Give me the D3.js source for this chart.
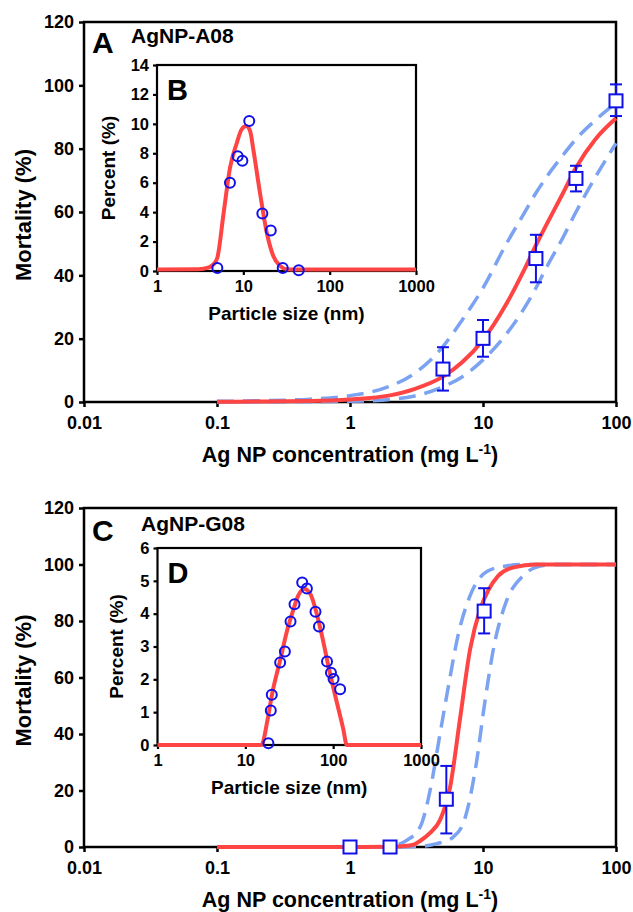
<!DOCTYPE html>
<html>
<head>
<meta charset="utf-8">
<script src="https://cdn.jsdelivr.net/npm/d3@7"></script>
<style>
  body { margin: 0; background: #fff; }
  text { font-family: "Liberation Sans", Arial, Helvetica, sans-serif; font-weight: bold; fill: #000; }
</style>
</head>
<body>
<div id="chart"></div>
<script>
// ---- data ----

// Panel A: AgNP-A08 mortality
var concA = [5, 10, 25, 50, 100];
var mortA = [10.4, 20.1, 45.3, 70.6, 95.1];
var mortA_low = [3.6, 14.3, 37.8, 66.5, 90.3];
var mortA_high = [17.3, 25.9, 52.8, 74.6, 100.3];

var fitA_x = [0.1, 0.2, 0.5, 1, 2, 3, 5, 7, 10, 15, 20, 25, 30, 40, 50, 70, 100];
var fitA = [0.1, 0.15, 0.3, 0.8, 2.1, 4.0, 8.0, 12.6, 19.6, 31, 41, 49.5, 56, 66, 74, 83, 89.6];
var fitA_upper = [0.2, 0.4, 0.9, 2.0, 5.0, 8.8, 17.5, 26, 36, 50, 59, 66, 71, 78, 83, 89, 94.5];
var fitA_lower = [0, 0.05, 0.1, 0.2, 0.8, 1.8, 4.8, 8, 13.3, 21.5, 29, 36, 42.5, 52, 60, 71, 81.7];

// Panel B: AgNP-A08 size distribution
var sizeB = [5.0, 7.0, 8.6, 9.75, 11.7, 16.6, 20.8, 28.6, 43.8];
var pctB = [0.2, 6.0, 7.8, 7.5, 10.2, 3.9, 2.75, 0.2, 0.05];
var fitB_x = [1, 3, 4, 4.5, 5, 5.9, 7, 8.4, 9.5, 10.8, 12, 13.1, 15.6, 18.7, 22.3, 26.6, 32, 40, 1000];
var fitB = [0.1, 0.12, 0.25, 0.45, 0.9, 3.9, 7.0, 8.7, 9.6, 9.85, 9.5, 8.2, 5.3, 2.6, 1.0, 0.35, 0.12, 0.1, 0.1];

// Panel C: AgNP-G08 mortality
var concC = [1, 2, 5.3, 10.2];
var mortC = [0, 0, 16.9, 83.5];
var mortC_low = [0, 0, 4.8, 75.6];
var mortC_high = [0, 0, 28.7, 91.6];

var fitC_x = [0.1, 1, 2, 2.5, 3, 3.4, 4, 4.75, 5.65, 6.7, 8, 9.5, 11, 13, 17, 25, 100];
var fitC = [0, 0, 0.1, 0.3, 0.8, 2.3, 5, 9.5, 21, 45, 70, 84, 91, 96, 99, 100, 100];
var fitC_upper_x = [0.1, 1, 1.8, 2.2, 2.7, 3.4, 4, 4.75, 5.5, 6.5, 8, 10.7, 15, 20, 100];
var fitC_upper = [0, 0, 0.1, 0.6, 2.5, 7.5, 20, 40, 57, 75, 89, 97.5, 99.5, 100, 100];
var fitC_lower_x = [0.1, 1, 2.5, 3.5, 4.5, 6, 7.3, 8.9, 10.3, 12.2, 15, 20, 25, 35, 100];
var fitC_lower = [0, 0, 0, 0.3, 1.2, 3.6, 10, 29.5, 51, 72, 87, 96, 99, 100, 100];

// Panel D: AgNP-G08 size distribution
var sizeD = [18.3, 19.5, 20.0, 24.9, 28.2, 32.7, 36.3, 44.4, 50.2, 62.9, 68.9, 85.1, 94.4, 101, 120];
var pctD = [0.05, 1.05, 1.53, 2.51, 2.85, 3.76, 4.29, 4.95, 4.77, 4.06, 3.61, 2.54, 2.2, 2.01, 1.7];
var fitD_x = [1, 15.2, 18, 20, 25, 30, 35, 40, 47, 55, 65, 75, 90, 110, 130, 143, 1000];
var fitD = [0, 0, 0.8, 1.5, 2.6, 3.5, 4.1, 4.55, 4.75, 4.6, 4.0, 3.3, 2.3, 1.3, 0.5, 0, 0];

// tick labels
var concTicks = [0.01, 0.1, 1, 10, 100];
var mortTicks = [0, 20, 40, 60, 80, 100, 120];
var sizeTicks = [1, 10, 100, 1000];
var pctTicksB = [0, 2, 4, 6, 8, 10, 12, 14];
var pctTicksD = [0, 1, 2, 3, 4, 5, 6];

// ---- drawing ----
var svgWidth = 633;
var svgHeight = 912;

var red = "#ff4444";
var dashBlue = "#7ca3f2";
var markBlue = "#1010e8";

var svg = d3.select("#chart")
  .append("svg")
  .attr("width", svgWidth)
  .attr("height", svgHeight);

function zip(xs, ys) {
  return xs.map(function(x, i) { return [x, ys[i]]; });
}

function fmt(v) {
  return v < 1 ? String(v) : d3.format("d")(v);
}

// draws a log-x plot frame with outward ticks, returns the scales
function drawFrame(g, box, xDomain, xTicks, yDomain, yTicks, opt) {
  var x = d3.scaleLog().domain(xDomain).range([box.left, box.right]);
  var y = d3.scaleLinear().domain(yDomain).range([box.bottom, box.top]);

  g.append("rect")
    .attr("x", box.left)
    .attr("y", box.top)
    .attr("width", box.right - box.left)
    .attr("height", box.bottom - box.top)
    .attr("fill", "#fff")
    .attr("stroke", "#000")
    .attr("stroke-width", opt.frameWidth);

  var xAxis = d3.axisBottom(x)
    .tickValues(xTicks)
    .tickFormat(fmt)
    .tickSize(opt.tickLen)
    .tickPadding(opt.xPad);
  var yAxis = d3.axisLeft(y)
    .tickValues(yTicks)
    .tickFormat(d3.format("d"))
    .tickSize(opt.tickLen)
    .tickPadding(opt.yPad);

  var gx = g.append("g")
    .attr("transform", `translate(0, ${box.bottom})`)
    .call(xAxis);
  var gy = g.append("g")
    .attr("transform", `translate(${box.left}, 0)`)
    .call(yAxis);

  [gx, gy].forEach(function(a) {
    a.select(".domain").remove();
    a.selectAll("line").attr("stroke", "#000").attr("stroke-width", opt.frameWidth);
    a.selectAll("text")
      .attr("fill", "#000")
      .style("font-size", opt.tickFont + "px");
  });

  return { x: x, y: y };
}

function drawCurve(g, sc, pts, color, width, dash) {
  var line = d3.line()
    .x(d => sc.x(d[0]))
    .y(d => sc.y(d[1]))
    .curve(d3.curveMonotoneX);
  g.append("path")
    .datum(pts)
    .attr("d", line)
    .attr("fill", "none")
    .attr("stroke", color)
    .attr("stroke-width", width)
    .attr("stroke-linecap", "butt")
    .attr("stroke-dasharray", dash || null);
}

function drawMain(cfg) {
  var g = svg.append("g");
  var box = cfg.box;
  var sc = drawFrame(g, box, [0.01, 100], concTicks, [0, 120], mortTicks,
    { frameWidth: 2.5, tickLen: 5, xPad: 9, yPad: 5, tickFont: 18 });

  // fitted curve and confidence bands
  drawCurve(g, sc, cfg.upper, dashBlue, 3.5, "17,9");
  drawCurve(g, sc, cfg.lower, dashBlue, 3.5, "17,9");
  drawCurve(g, sc, cfg.fit, red, 4);

  // error bars + square markers
  var pts = cfg.conc.map(function(c, i) {
    return { c: c, m: cfg.mort[i], lo: cfg.low[i], hi: cfg.high[i] };
  });
  var eb = g.selectAll(".eb").data(pts).enter().append("g");
  eb.filter(d => d.hi > d.lo).each(function(d) {
    var e = d3.select(this);
    var cx = sc.x(d.c);
    e.append("line").attr("x1", cx).attr("x2", cx)
      .attr("y1", sc.y(d.lo)).attr("y2", sc.y(d.hi));
    e.append("line").attr("x1", cx - 6).attr("x2", cx + 6)
      .attr("y1", sc.y(d.lo)).attr("y2", sc.y(d.lo));
    e.append("line").attr("x1", cx - 6).attr("x2", cx + 6)
      .attr("y1", sc.y(d.hi)).attr("y2", sc.y(d.hi));
  });
  eb.selectAll("line").attr("stroke", markBlue).attr("stroke-width", 2);
  eb.append("rect")
    .attr("x", d => sc.x(d.c) - 6.5)
    .attr("y", d => sc.y(d.m) - 6.5)
    .attr("width", 13)
    .attr("height", 13)
    .attr("fill", "#fff")
    .attr("stroke", markBlue)
    .attr("stroke-width", 2);

  // axis titles
  g.append("text")
    .attr("x", (box.left + box.right) / 2)
    .attr("y", box.bottom + 60)
    .attr("text-anchor", "middle")
    .style("font-size", "21.5px")
    .html('Ag NP concentration (mg L<tspan dy="-8" font-size="14px">-1</tspan><tspan dy="8">)</tspan>');

  g.append("text")
    .attr("transform", `translate(31, ${(box.top + box.bottom) / 2 + 3}) rotate(-90)`)
    .attr("text-anchor", "middle")
    .style("font-size", "22px")
    .text("Mortality (%)");

  // panel letter and sample name
  g.append("text")
    .attr("x", 92)
    .attr("y", box.top + cfg.letterDy)
    .style("font-size", "30px")
    .text(cfg.letter);
  g.append("text")
    .attr("x", cfg.nameX)
    .attr("y", box.top + cfg.nameDy)
    .style("font-size", "21px")
    .text(cfg.name);

  return g;
}

function drawInset(cfg) {
  var g = svg.append("g");
  var box = cfg.box;
  var sc = drawFrame(g, box, [1, 1000], sizeTicks, cfg.yDomain, cfg.yTicks,
    { frameWidth: 2.2, tickLen: 4, xPad: 5, yPad: 4, tickFont: 16.5 });

  drawCurve(g, sc, cfg.fit, red, 4);

  g.selectAll(".pt")
    .data(zip(cfg.size, cfg.pct))
    .enter()
    .append("circle")
    .attr("cx", d => sc.x(d[0]))
    .attr("cy", d => sc.y(d[1]))
    .attr("r", 5)
    .attr("fill", "none")
    .attr("stroke", markBlue)
    .attr("stroke-width", 2);

  g.append("text")
    .attr("x", (box.left + box.right) / 2)
    .attr("y", box.bottom + 49)
    .attr("text-anchor", "middle")
    .style("font-size", "19px")
    .text("Particle size (nm)");

  g.append("text")
    .attr("transform", `translate(${cfg.titleX}, ${(box.top + box.bottom) / 2}) rotate(-90)`)
    .attr("text-anchor", "middle")
    .style("font-size", "19px")
    .text("Percent (%)");

  g.append("text")
    .attr("x", box.left + 10)
    .attr("y", box.top + 35)
    .style("font-size", "29px")
    .text(cfg.letter);
}

drawMain({
  box: { left: 84, right: 616, top: 22, bottom: 402 },
  conc: concA, mort: mortA, low: mortA_low, high: mortA_high,
  fit: zip(fitA_x, fitA),
  upper: zip(fitA_x, fitA_upper),
  lower: zip(fitA_x, fitA_lower),
  letter: "A", letterDy: 31,
  name: "AgNP-A08", nameX: 131, nameDy: 21
});

drawInset({
  box: { left: 157, right: 416, top: 65, bottom: 271 },
  yDomain: [0, 14], yTicks: pctTicksB,
  size: sizeB, pct: pctB,
  fit: zip(fitB_x, fitB),
  titleX: 115, letter: "B"
});

drawMain({
  box: { left: 84, right: 616, top: 508, bottom: 847 },
  conc: concC, mort: mortC, low: mortC_low, high: mortC_high,
  fit: zip(fitC_x, fitC),
  upper: zip(fitC_upper_x, fitC_upper),
  lower: zip(fitC_lower_x, fitC_lower),
  letter: "C", letterDy: 33,
  name: "AgNP-G08", nameX: 141, nameDy: 23
});

drawInset({
  box: { left: 157.5, right: 421, top: 548, bottom: 745 },
  yDomain: [0, 6], yTicks: pctTicksD,
  size: sizeD, pct: pctD,
  fit: zip(fitD_x, fitD),
  titleX: 123, letter: "D"
});
</script>
</body>
</html>
